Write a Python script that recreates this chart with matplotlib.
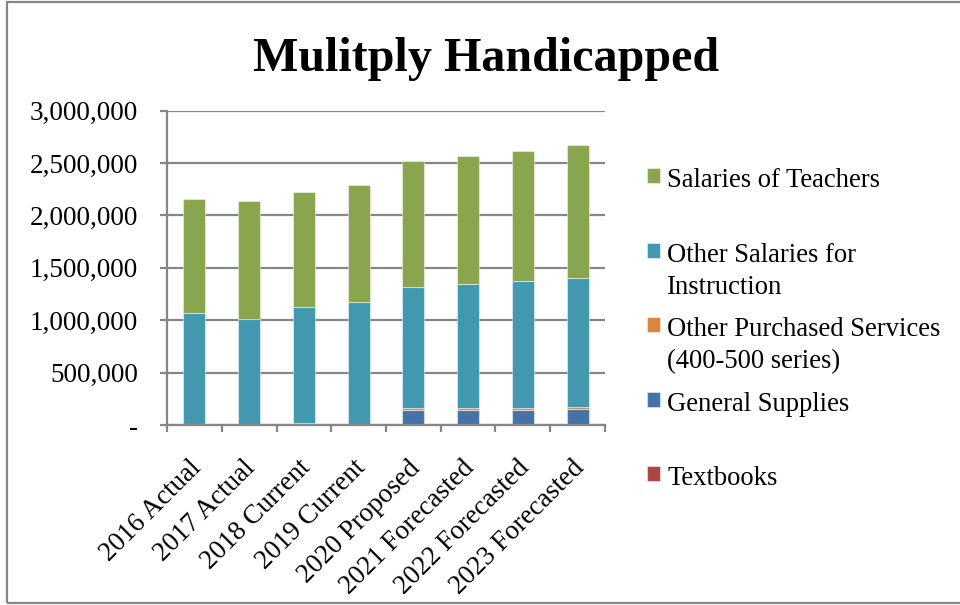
import matplotlib
matplotlib.use("Agg")
import matplotlib.pyplot as plt
import matplotlib.transforms as mtransforms
from matplotlib.patches import Rectangle
from matplotlib.ticker import FuncFormatter, FixedLocator
import numpy as np

categories = ["2016 Actual", "2017 Actual", "2018 Current", "2019 Current",
              "2020 Proposed", "2021 Forecasted", "2022 Forecasted", "2023 Forecasted"]
textbooks = [2000, 0, 1000, 0, 3000, 3000, 3000, 3000]
general_supplies = [3000, 1000, 12000, 2000, 137000, 140000, 142000, 146000]
other_purchased = [8000, 2000, 3000, 2000, 20000, 20000, 21000, 23000]
other_salaries = [1057000, 1010000, 1108000, 1172000, 1159000, 1181000, 1207000, 1227000]
salaries_teachers = [1083000, 1127000, 1096000, 1111000, 1197000, 1220000, 1242000, 1270000]

series = [
    ("Textbooks", textbooks, "#AA4643"),
    ("General Supplies", general_supplies, "#4572A7"),
    ("Other Purchased Services\n(400-500 series)", other_purchased, "#DB843D"),
    ("Other Salaries for\nInstruction", other_salaries, "#4198AF"),
    ("Salaries of Teachers", salaries_teachers, "#89A54E"),
]
title = "Mulitply Handicapped"
yticks = [0, 500000, 1000000, 1500000, 2000000, 2500000, 3000000]

plt.rcParams['font.family'] = ['Liberation Serif', 'DejaVu Serif']
W, H = 960, 605
FS = 19.5
fig = plt.figure(figsize=(W / 100, H / 100), dpi=100)
ax = fig.add_axes([167 / W, 1 - 425 / H, (605 - 167) / W, (425 - 110.7) / H])

grey = "#868686"
x = np.arange(len(categories))
bottom = np.zeros(len(categories))
handles = []
for name, vals, col in series:
    vals = np.array(vals, dtype=float)
    b = ax.bar(x, vals, width=0.4, bottom=bottom, color=col,
               edgecolor=(1, 1, 1, 0.45), linewidth=0.8, label=name, zorder=3)
    handles.append(b)
    bottom = bottom + vals

ax.set_xlim(-0.5, len(categories) - 0.5)
ax.set_ylim(0, 3000000)
ax.set_yticks(yticks)
ax.yaxis.set_major_formatter(FuncFormatter(lambda v, p: "-" if v == 0 else f"{int(v):,}"))
ax.yaxis.grid(True, color=grey, linewidth=1.6, zorder=0)
ax.set_axisbelow(True)
for s in ["top", "right"]:
    ax.spines[s].set_visible(False)
for s in ["left", "bottom"]:
    ax.spines[s].set_color(grey)
    ax.spines[s].set_linewidth(1.6)
    ax.spines[s].set_zorder(4)
ax.tick_params(axis="y", length=5, width=1.6, color=grey, pad=16, labelsize=FS)

ax.set_xticks(x)
ax.set_xticklabels(categories, rotation=45, ha="right", va="top",
                   rotation_mode="anchor", fontsize=FS)
ax.tick_params(axis="x", which="major", length=0, pad=22)
ax.xaxis.set_minor_locator(FixedLocator(np.arange(-0.5, len(categories), 1.0)))
ax.tick_params(axis="x", which="minor", length=5, width=1.6, color=grey)
offset = mtransforms.ScaledTranslation(-6 / 100, 0, fig.dpi_scale_trans)
for lbl in ax.get_xticklabels():
    lbl.set_transform(lbl.get_transform() + offset)

fig.text(0.506, 1 - 71 / H, title, ha="center", va="baseline",
         fontsize=34.6, fontweight="bold")

# legend (reversed order, top = Salaries of Teachers)
leg_handles = handles[::-1]
leg_labels = [s[0] if "\n" in s[0] else s[0] + "\n" for s in series[::-1]]
leg = fig.legend(leg_handles, leg_labels, loc="upper left",
                 bbox_to_anchor=(647 / W, 1 - 168 / H), frameon=False,
                 fontsize=19.2, handlelength=0.5, handleheight=0.5,
                 handletextpad=0.25, labelspacing=0.65, borderpad=0, borderaxespad=0)
for t in leg.get_texts():
    t.set_linespacing(1.38)
try:
    for colbox in leg._legend_handle_box.get_children():
        for item in colbox.get_children():
            item.align = "top"
except Exception:
    pass

fig.patches.append(Rectangle((6.5 / W, 1 - 603 / H), 2, (603 - 1.5) / H,
                             transform=fig.transFigure, fill=False,
                             edgecolor=grey, linewidth=1.6))

fig.savefig("out.png", dpi=100)
